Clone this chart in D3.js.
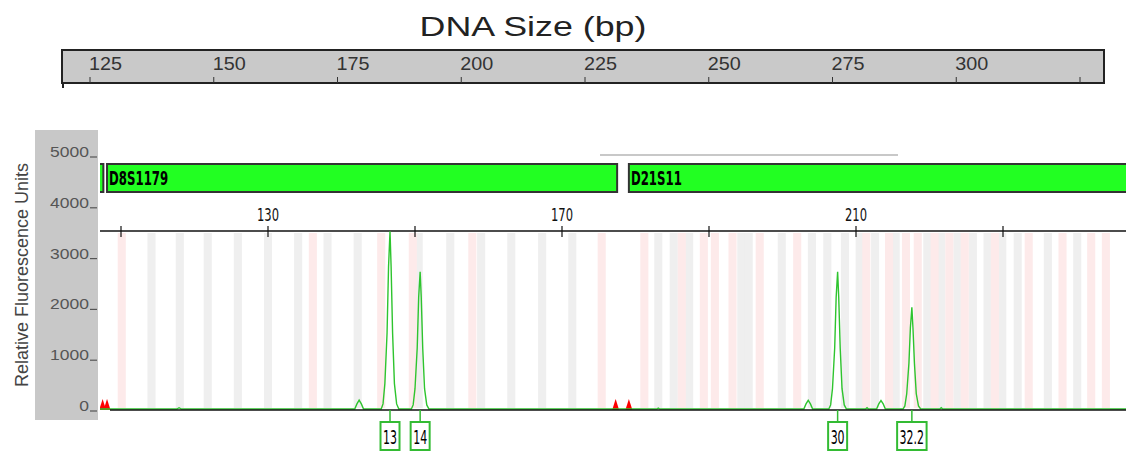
<!DOCTYPE html>
<html>
<head>
<meta charset="utf-8">
<script src="https://cdn.jsdelivr.net/npm/d3@7"></script>
<style>
body { margin: 0; background: #fff; }
svg { display: block; font-family: "Liberation Sans", Arial, sans-serif; }
.narrow { font-family: "DejaVu Sans", "Liberation Sans", sans-serif; }
</style>
</head>
<body>
<svg width="1126" height="453"></svg>
<script>
// top size ruler (bp)
var sizeTicks = [125, 150, 175, 200, 225, 250, 275, 300, 325];
var sizeLabels = ["125", "150", "175", "200", "225", "250", "275", "300", ""];

// electropherogram panel
var bpTicks = [110, 130, 150, 170, 190, 210, 230];
var bpLabels = [130, 170, 210];
var rfuTicks = [0, 1000, 2000, 3000, 4000, 5000];

var markers = [
  {name: "", start: 106.0, end: 107.6},
  {name: "D8S1179", start: 108.1, end: 177.5},
  {name: "D21S11", start: 179.1, end: 250}
];

// allele bins (bp centres)
var greyBins = [114.15, 118.0, 121.8, 125.9, 130.0, 134.1, 138.1, 142.2, 150.5, 154.8, 159.0, 163.1,
  167.3, 171.4, 183.1, 185.2, 187.3, 194.4, 195.4, 199.9, 204.0, 206.1, 208.5, 210.5, 212.6, 215.4,
  219.7, 221.6, 223.8, 225.9, 227.9, 229.9, 232.0, 236.1, 240.1];
var pinkBins = [110.1, 136.1, 145.4, 149.7, 157.8, 175.4, 181.2, 186.3, 189.3, 190.8, 193.2, 196.9,
  202.0, 211.4, 214.5, 216.8, 218.4, 220.7, 222.7, 224.8, 228.9, 233.5, 238.1, 242.0, 244.0];

// green dye trace [bp, rfu]
var trace = [
  [107.0, 0], [117.6, 0], [117.9, 25], [118.2, 0],
  [141.8, 0], [142.1, 100], [142.4, 175], [142.7, 100], [143.0, 0],
  [145.4, 0], [145.65, 100], [145.9, 500], [146.2, 1500], [146.4, 2800], [146.6, 3500],
  [146.75, 2800], [146.95, 1500], [147.2, 500], [147.5, 100], [147.8, 0],
  [149.5, 0], [149.75, 80], [150.0, 400], [150.3, 1200], [150.5, 2200], [150.7, 2700],
  [150.85, 2200], [151.05, 1200], [151.3, 400], [151.6, 80], [151.9, 0],
  [182.9, 0], [183.1, 20], [183.3, 0],
  [202.9, 0], [203.2, 100], [203.5, 170], [203.8, 100], [204.1, 0],
  [206.3, 0], [206.55, 80], [206.8, 400], [207.1, 1200], [207.3, 2200], [207.5, 2700],
  [207.65, 2200], [207.85, 1200], [208.1, 400], [208.4, 80], [208.7, 0],
  [211.3, 0], [211.5, 25], [211.7, 0],
  [212.8, 0], [213.1, 100], [213.4, 165], [213.7, 100], [214.0, 0],
  [216.4, 0], [216.65, 60], [216.9, 300], [217.2, 900], [217.4, 1600], [217.6, 2000],
  [217.75, 1600], [217.95, 900], [218.2, 300], [218.5, 60], [218.8, 0],
  [221.4, 0], [221.6, 25], [221.8, 0], [250, 0]
];

// red size-standard peaks (bp)
var redPeaks = [107.5, 108.1, 177.3, 179.1];

var alleles = [
  {label: "13", bp: 146.6},
  {label: "14", bp: 150.7},
  {label: "30", bp: 207.5},
  {label: "32.2", bp: 217.6}
];

var svg = d3.select("svg");

// narrow / wide text: scale horizontally around the anchor point
function placeText(sel, px, py, sx) {
  sel.attr("transform", function(d, i) {
    return "translate(" + px(d, i) + "," + py(d, i) + ") scale(" + sx + ",1)";
  });
}

// ---- title + size ruler ----
svg.append("text")
  .attr("text-anchor", "middle")
  .attr("font-size", 28)
  .attr("fill", "#222")
  .text("DNA Size (bp)")
  .call(placeText, function() { return 533; }, function() { return 36; }, 1.28);

var xSize = d3.scaleLinear().domain([125, 325]).range([90, 1080]);

svg.append("rect")
  .attr("x", 62).attr("y", 50).attr("width", 1042).attr("height", 33)
  .attr("fill", "#c9c9c9").attr("stroke", "#222").attr("stroke-width", 2);
svg.append("line").attr("x1", 63).attr("x2", 63).attr("y1", 83).attr("y2", 88)
  .attr("stroke", "#222").attr("stroke-width", 2);

var ruler = svg.append("g").selectAll("g")
  .data(sizeTicks)
  .enter().append("g")
  .attr("transform", function(d) { return "translate(" + xSize(d) + ",0)"; });
ruler.append("line").attr("y1", 77).attr("y2", 83).attr("stroke", "#333");
ruler.append("text")
  .attr("font-size", 18).attr("fill", "#333")
  .text(function(d, i) { return sizeLabels[i]; })
  .call(placeText, function() { return -1; }, function() { return 70; }, 1.1);

// ---- electropherogram ----
var x = d3.scaleLinear().domain([110, 230]).range([121, 1003]);
var y = d3.scaleLinear().domain([0, 5000]).range([410, 156]);
var binW = x(111.1) - x(110);

// y axis panel
svg.append("rect")
  .attr("x", 35).attr("y", 130).attr("width", 63).attr("height", 290)
  .attr("fill", "#c8c8c8");

var yt = svg.append("g").selectAll("g")
  .data(rfuTicks)
  .enter().append("g")
  .attr("transform", function(d) { return "translate(0," + y(d) + ")"; });
yt.append("text")
  .attr("text-anchor", "end")
  .attr("font-size", 14).attr("fill", "#555")
  .text(function(d) { return d; })
  .call(placeText, function() { return 89; }, function() { return 1; }, 1.25);
yt.append("line").attr("x1", 90).attr("x2", 97).attr("y1", 1).attr("y2", 1)
  .attr("stroke", "#555").attr("stroke-width", 1.2);

svg.append("text")
  .attr("transform", "translate(28,275) rotate(-90)")
  .attr("text-anchor", "middle")
  .attr("font-size", 18).attr("fill", "#444")
  .text("Relative Fluorescence Units");

svg.append("defs").append("clipPath").attr("id", "plotclip")
  .append("rect").attr("x", 100).attr("y", 140).attr("width", 1026).attr("height", 300);

var plot = svg.append("g").attr("clip-path", "url(#plotclip)");

// bins
plot.selectAll("rect.grey").data(greyBins).enter().append("rect")
  .attr("class", "grey")
  .attr("x", function(d) { return x(d) - binW / 2; })
  .attr("y", 233).attr("width", binW).attr("height", 175)
  .attr("fill", "#efefef");
plot.selectAll("rect.pink").data(pinkBins).enter().append("rect")
  .attr("class", "pink")
  .attr("x", function(d) { return x(d) - binW / 2; })
  .attr("y", 233).attr("width", binW).attr("height", 175)
  .attr("fill", "#fdeaea");

// faint line above markers
plot.append("line").attr("x1", 600).attr("x2", 898).attr("y1", 155).attr("y2", 155)
  .attr("stroke", "#c8c8c8").attr("stroke-width", 2);

// marker bars
var mk = plot.selectAll("g.marker").data(markers).enter().append("g").attr("class", "marker");
mk.append("rect")
  .attr("x", function(d) { return x(d.start); })
  .attr("y", 164)
  .attr("width", function(d) { return x(d.end) - x(d.start); })
  .attr("height", 28)
  .attr("fill", "#22ff22").attr("stroke", "#333").attr("stroke-width", 2);
mk.append("text")
  .attr("class", "narrow")
  .attr("font-size", 19).attr("font-weight", "bold").attr("fill", "#000")
  .text(function(d) { return d.name; })
  .call(placeText, function(d) { return x(d.start) + 2; }, function() { return 185; }, 0.62);

// bp axis
plot.append("line").attr("x1", 100).attr("x2", 1126).attr("y1", 231).attr("y2", 231)
  .attr("stroke", "#111").attr("stroke-width", 1.5);
plot.selectAll("line.bptick").data(bpTicks).enter().append("line")
  .attr("class", "bptick")
  .attr("x1", function(d) { return x(d); }).attr("x2", function(d) { return x(d); })
  .attr("y1", 226).attr("y2", 237)
  .attr("stroke", "#111").attr("stroke-width", 1.2);
plot.selectAll("text.bplab").data(bpLabels).enter().append("text")
  .attr("class", "bplab narrow")
  .attr("text-anchor", "middle")
  .attr("font-size", 17).attr("fill", "#111")
  .text(function(d) { return d; })
  .call(placeText, function(d) { return x(d); }, function() { return 221; }, 0.68);

// red peaks
plot.selectAll("path.red").data(redPeaks).enter().append("path")
  .attr("class", "red")
  .attr("d", function(d) {
    var cx = x(d);
    return "M" + (cx - 3.5) + "," + y(0) + "L" + cx + "," + (y(0) - 11) + "L" + (cx + 3.5) + "," + y(0) + "Z";
  })
  .attr("fill", "#ff0000");

// green trace
var line = d3.line()
  .x(function(d) { return x(d[0]); })
  .y(function(d) { return y(d[1]) - 1; });
plot.append("path")
  .datum(trace)
  .attr("d", line)
  .attr("fill", "none").attr("stroke", "#2ec42e").attr("stroke-width", 1.4);

// baseline
plot.append("line").attr("x1", 110).attr("x2", 1126).attr("y1", y(0)).attr("y2", y(0))
  .attr("stroke", "#111").attr("stroke-width", 1.5);

// allele labels
var sxA = 0.55;
var al = svg.selectAll("g.allele").data(alleles).enter().append("g")
  .attr("class", "allele")
  .attr("transform", function(d) { return "translate(" + x(d.bp) + ",0)"; });
al.append("line").attr("y1", y(0)).attr("y2", 422)
  .attr("stroke", "#33bb33").attr("stroke-width", 1.5);
al.append("text")
  .attr("class", "narrow")
  .attr("text-anchor", "middle")
  .attr("font-size", 20).attr("fill", "#000")
  .text(function(d) { return d.label; })
  .call(placeText, function() { return 0; }, function() { return 444; }, sxA);
al.each(function() {
  var g = d3.select(this);
  var bb = g.select("text").node().getBBox();
  var w = bb.width * sxA + 5;
  g.insert("rect", "text")
    .attr("x", -w / 2).attr("y", 422)
    .attr("width", w).attr("height", 28)
    .attr("fill", "#fff").attr("stroke", "#33bb33").attr("stroke-width", 2);
});
</script>
</body>
</html>
